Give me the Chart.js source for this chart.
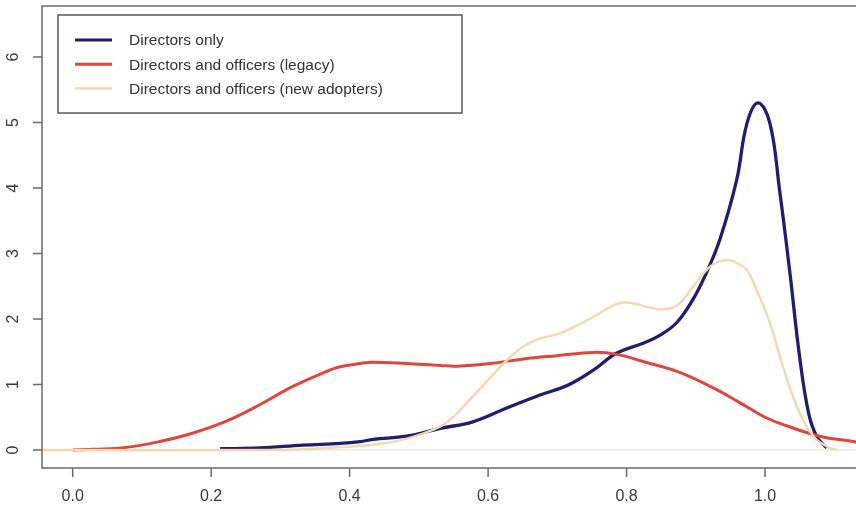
<!DOCTYPE html>
<html>
<head>
<meta charset="utf-8">
<script src="https://cdn.jsdelivr.net/npm/chart.js@4/dist/chart.umd.min.js"></script>
<style>
  html, body { margin: 0; padding: 0; background: #ffffff; overflow: hidden; }
  canvas { display: block; }
</style>
</head>
<body>
<canvas id="c" width="856" height="508"></canvas>
<script>
// Kernel density estimates of the score, by charter group
const seriesNames = [
  'Directors only',
  'Directors and officers (legacy)',
  'Directors and officers (new adopters)'
];

const directorsX = [0.213, 0.270, 0.333, 0.386, 0.415, 0.434, 0.482, 0.531, 0.578, 0.627, 0.675, 0.704, 0.723, 0.752, 0.786, 0.824, 0.848, 0.873, 0.896, 0.916, 0.935, 0.959, 0.974, 0.990, 1.007, 1.021, 1.036, 1.050, 1.063, 1.075, 1.089];
const directorsY = [0.02, 0.03, 0.075, 0.10, 0.127, 0.163, 0.21, 0.33, 0.43, 0.64, 0.84, 0.94, 1.03, 1.22, 1.48, 1.63, 1.75, 1.95, 2.30, 2.72, 3.22, 4.12, 4.99, 5.30, 4.99, 3.97, 2.70, 1.42, 0.56, 0.20, 0.03];

const legacyX = [0.000, 0.029, 0.078, 0.126, 0.174, 0.222, 0.270, 0.318, 0.367, 0.386, 0.415, 0.434, 0.482, 0.531, 0.555, 0.603, 0.651, 0.699, 0.752, 0.786, 0.824, 0.873, 0.921, 0.964, 1.000, 1.031, 1.079, 1.127, 1.140];
const legacyY = [0.00, 0.01, 0.04, 0.13, 0.26, 0.44, 0.69, 0.97, 1.20, 1.27, 1.32, 1.34, 1.32, 1.29, 1.28, 1.32, 1.39, 1.44, 1.49, 1.46, 1.35, 1.20, 0.97, 0.72, 0.50, 0.37, 0.21, 0.13, 0.11];

const adoptersX = [-0.050, 0.300, 0.350, 0.386, 0.434, 0.482, 0.531, 0.555, 0.578, 0.603, 0.627, 0.651, 0.675, 0.704, 0.723, 0.752, 0.780, 0.800, 0.848, 0.873, 0.896, 0.921, 0.945, 0.964, 0.974, 0.988, 1.007, 1.026, 1.046, 1.060, 1.075, 1.094, 1.104];
const adoptersY = [0.00, 0.00, 0.02, 0.04, 0.08, 0.17, 0.36, 0.56, 0.82, 1.10, 1.37, 1.58, 1.70, 1.78, 1.87, 2.03, 2.20, 2.25, 2.15, 2.21, 2.49, 2.80, 2.90, 2.83, 2.75, 2.44, 1.94, 1.27, 0.66, 0.36, 0.15, 0.03, 0.00];

const xTicks = [0.0, 0.2, 0.4, 0.6, 0.8, 1.0];
const yTicks = [0, 1, 2, 3, 4, 5, 6];

const colors = ['#1d1f6f', '#e0463e', '#f3d9b1'];

const toPoints = (xs, ys) => xs.map((x, i) => ({ x: x, y: ys[i] }));

// Plot frame, axes, tick labels and the boxed legend, drawn with the chart's scales
const framePlugin = {
  id: 'frame',
  beforeDraw(chart) {
    const ctx = chart.ctx;
    ctx.save();
    ctx.fillStyle = '#ffffff';
    ctx.fillRect(0, 0, chart.width, chart.height);
    ctx.restore();
  },
  afterDraw(chart) {
    const ctx = chart.ctx;
    const a = chart.chartArea;
    const xs = chart.scales.x;
    const ys = chart.scales.y;
    ctx.save();
    ctx.strokeStyle = '#6a6a6a';
    ctx.lineWidth = 1.5;
    ctx.beginPath();
    ctx.moveTo(a.right + 5, a.top);
    ctx.lineTo(a.left, a.top);
    ctx.lineTo(a.left, a.bottom);
    ctx.lineTo(a.right + 5, a.bottom);
    ctx.stroke();

    ctx.fillStyle = '#3a3a3a';
    ctx.font = '16px "Liberation Sans", Arial, sans-serif';
    ctx.textAlign = 'center';
    ctx.textBaseline = 'middle';

    // x axis
    ctx.beginPath();
    xTicks.forEach(v => {
      const px = xs.getPixelForValue(v);
      ctx.moveTo(px, a.bottom);
      ctx.lineTo(px, a.bottom + 9);
    });
    ctx.stroke();
    xTicks.forEach(v => {
      ctx.fillText(v.toFixed(1), xs.getPixelForValue(v), a.bottom + 29);
    });

    // y axis
    ctx.beginPath();
    yTicks.forEach(v => {
      const py = ys.getPixelForValue(v);
      ctx.moveTo(a.left, py);
      ctx.lineTo(a.left - 9, py);
    });
    ctx.stroke();
    yTicks.forEach(v => {
      const py = ys.getPixelForValue(v);
      ctx.save();
      ctx.translate(14, py);
      ctx.rotate(-Math.PI / 2);
      ctx.fillText(String(v), 0, 0);
      ctx.restore();
    });

    // legend
    const lx = 58, ly = 15, lw = 404, lh = 98;
    ctx.fillStyle = '#ffffff';
    ctx.fillRect(lx, ly, lw, lh);
    ctx.strokeStyle = '#585858';
    ctx.lineWidth = 1.5;
    ctx.strokeRect(lx, ly, lw, lh);
    ctx.font = '15.5px "Liberation Sans", Arial, sans-serif';
    ctx.textAlign = 'left';
    seriesNames.forEach((name, i) => {
      const yy = 40 + i * 24.3;
      ctx.strokeStyle = colors[i];
      ctx.lineWidth = i === 2 ? 2.5 : 3;
      ctx.beginPath();
      ctx.moveTo(75, yy);
      ctx.lineTo(112, yy);
      ctx.stroke();
      ctx.fillStyle = '#333333';
      ctx.fillText(name, 129, yy + 1);
    });
    ctx.restore();
  }
};

const curve = (label, xs, ys, color, width, order) => ({
  label: label,
  data: toPoints(xs, ys),
  borderColor: color,
  borderWidth: width,
  pointRadius: 0,
  tension: 0.4,
  order: order
});

new Chart(document.getElementById('c'), {
  type: 'line',
  data: {
    datasets: [
      {
        label: 'baseline',
        data: [{ x: -0.1, y: 0 }, { x: 1.2, y: 0 }],
        borderColor: '#e2dbd0',
        borderWidth: 1,
        pointRadius: 0,
        order: 4
      },
      curve(seriesNames[0], directorsX, directorsY, colors[0], 3.3, 3),
      curve(seriesNames[1], legacyX, legacyY, colors[1], 3, 2),
      curve(seriesNames[2], adoptersX, adoptersY, colors[2], 2.5, 1)
    ]
  },
  options: {
    responsive: false,
    devicePixelRatio: 1,
    animation: false,
    layout: { padding: { left: 42, top: 6, right: 0, bottom: 40 } },
    scales: {
      x: { type: 'linear', min: -0.0443, max: 1.1314, display: false },
      y: { type: 'linear', min: -0.275, max: 6.778, display: false }
    },
    plugins: {
      legend: { display: false },
      tooltip: { enabled: false }
    }
  },
  plugins: [framePlugin]
});
</script>
</body>
</html>
